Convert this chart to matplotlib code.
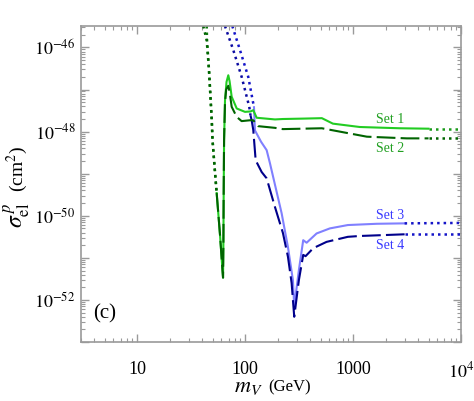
import matplotlib
matplotlib.use('Agg')
import matplotlib.pyplot as plt
import numpy as np
from matplotlib.ticker import FixedLocator, LogLocator, FuncFormatter, NullFormatter

plt.rcParams['font.family'] = 'serif'
plt.rcParams['font.serif'] = ['Liberation Serif', 'DejaVu Serif']
plt.rcParams['mathtext.fontset'] = 'stix'

# m_V in GeV, sigma given as log10(sigma / cm^2)
# left dotted branches
s1_dot_l_m = [43.9, 44.2, 46.1, 48.9, 49.7, 51.6, 54.3]
s1_dot_l_s = [-45.49, -45.83, -46.54, -47.73, -48.20, -48.75, -49.46]
s2_dot_l_m = [40.8, 43.9, 46.1, 48.9, 49.7, 51.6, 54.3]
s2_dot_l_s = [-45.49, -45.83, -46.54, -47.73, -48.20, -48.75, -49.46]
s3_dot_l_m = [75.8, 89.3, 106.6, 118.6, 120.4]
s3_dot_l_s = [-45.49, -46.06, -46.70, -47.33, -47.42]
s4_dot_l_m = [64.8, 77.4, 92.6, 108.9, 111.7]
s4_dot_l_s = [-45.49, -46.06, -46.70, -47.41, -47.61]

# main curves
s1_m = [54.3, 58.3, 61.5, 62.2, 62.7, 63.0, 63.6, 64.9, 67.0, 69.6, 71.5, 74.8,
        83.3, 99.4, 112, 118.6, 127.5, 188.4, 223, 350, 513, 649, 1153, 2705, 5000]
s1_s = [-49.46, -50.45, -51.30, -51.47, -50.60, -49.63, -48.20, -47.25, -46.82, -46.66,
        -46.80, -47.17, -47.45, -47.53, -47.52, -47.49, -47.67, -47.71, -47.70, -47.69,
        -47.68, -47.81, -47.89, -47.92, -47.93]
s2_m = [54.3, 58.3, 61.5, 62.2, 62.7, 63.0, 63.6, 64.9, 66.5, 69.6, 71.5, 74.8, 83.3,
        92.5, 110.5, 118.6, 131.8, 188.4, 223, 513, 754, 1340, 3141, 5000]
s2_s = [-49.46, -50.45, -51.30, -51.47, -50.60, -49.63, -48.20, -47.30, -47.00, -46.91,
        -47.05, -47.41, -47.65, -47.75, -47.73, -47.73, -47.87, -47.91, -47.94, -47.92,
        -48.00, -48.12, -48.16, -48.16]
s3_m = [120.4, 122.9, 140, 157.8, 169.3, 217.3, 248.5, 276.5, 284.3, 314, 344.4,
        370.4, 458.4, 608, 893, 1656, 3000]
s3_s = [-47.42, -47.97, -48.24, -48.44, -48.75, -49.94, -50.74, -51.53, -52.16, -51.29,
        -50.58, -50.64, -50.42, -50.30, -50.22, -50.19, -50.18]
s4_m = [111.7, 114.6, 118.6, 124.8, 141.9, 157.8, 188.4, 223.4, 248.5, 269, 284.3,
        314, 344.4, 362.2, 426.6, 567, 893, 1153, 3000]
s4_s = [-47.61, -47.73, -47.96, -48.68, -48.96, -49.11, -49.79, -50.41, -50.97, -51.60,
        -52.40, -51.53, -50.93, -50.96, -50.77, -50.62, -50.50, -50.48, -50.44]

# right dotted tails
s1_dot_r_m = [5000, 10000]
s1_dot_r_s = [-47.93, -47.93]
s2_dot_r_m = [5000, 10000]
s2_dot_r_s = [-48.16, -48.16]
s3_dot_r_m = [3000, 10000]
s3_dot_r_s = [-50.18, -50.17]
s4_dot_r_m = [3000, 10000]
s4_dot_r_s = [-50.44, -50.44]

set_labels = ['Set 1', 'Set 2', 'Set 3', 'Set 4']
label_m = [2190, 2190, 2190, 2190]
label_s = [-47.71, -48.40, -49.99, -50.71]


def sig(a):
    return 10.0 ** np.array(a)


fig = plt.figure(figsize=(4.74, 4.01), dpi=100)
ax = fig.add_axes([0.1709, 0.1471, 0.8017, 0.788])

c1, c2, c3, c4 = '#22cc22', '#006400', '#8080ff', '#00008b'
dot = (0, (1, 1.6))
dash = (0, (9, 2.5))

ax.plot(s1_dot_l_m, sig(s1_dot_l_s), color='#0f7a0f', lw=1.8, ls=dot)
ax.plot(s2_dot_l_m, sig(s2_dot_l_s), color='#006400', lw=1.8, ls=dot)
ax.plot(s3_dot_l_m, sig(s3_dot_l_s), color='#1414c8', lw=1.8, ls=dot)
ax.plot(s4_dot_l_m, sig(s4_dot_l_s), color='#0a0aa0', lw=1.8, ls=dot)

ax.plot(s3_m, sig(s3_s), color=c3, lw=1.5)
ax.plot(s4_m, sig(s4_s), color=c4, lw=1.5, ls=dash)
ax.plot(s1_m, sig(s1_s), color=c1, lw=1.5)
ax.plot(s2_m, sig(s2_s), color=c2, lw=1.5, ls=dash)

ax.plot(s1_dot_r_m, sig(s1_dot_r_s), color='#1a9a1a', lw=1.8, ls=dot)
ax.plot(s2_dot_r_m, sig(s2_dot_r_s), color='#006400', lw=1.8, ls=dot)
ax.plot(s3_dot_r_m, sig(s3_dot_r_s), color='#1414c8', lw=1.8, ls=dot)
ax.plot(s4_dot_r_m, sig(s4_dot_r_s), color='#1414c8', lw=1.8, ls=dot)

label_colors = ['#22a022', '#22a022', '#3a3aff', '#3a3aff']
for name, m, s, col in zip(set_labels, label_m, label_s, label_colors):
    ax.text(m, 10.0 ** s, name, color=col, fontsize=10, ha='center', va='center')

ax.text(0.063, 0.089, '(c)', transform=ax.transAxes, fontsize=15,
        ha='center', va='center')

ax.set_xscale('log')
ax.set_yscale('log')
ax.set_xlim(3, 1e4)
ax.set_ylim(1e-53, 10 ** -45.49)

ax.xaxis.set_major_locator(FixedLocator([10, 100, 1000, 10000]))
ax.xaxis.set_major_formatter(FuncFormatter(
    lambda v, p: {10: '10', 100: '100', 1000: '1000', 10000: r'$10^4$'}.get(int(round(v)), '')))
ax.xaxis.set_minor_locator(LogLocator(base=10, subs=np.arange(2, 10), numticks=20))
ax.xaxis.set_minor_formatter(NullFormatter())

ydec = np.arange(-53, -45)
ax.yaxis.set_major_locator(FixedLocator(10.0 ** ydec))
ax.yaxis.set_major_formatter(FuncFormatter(
    lambda v, p: r'$10^{%d}$' % round(np.log10(v)) if round(np.log10(v)) % 2 == 0 else ''))
ax.yaxis.set_minor_locator(LogLocator(base=10, subs=np.arange(2, 10), numticks=20))
ax.yaxis.set_minor_formatter(NullFormatter())

for sp in ax.spines.values():
    sp.set_color('#9a9a9a')
    sp.set_linewidth(1.2)
ax.tick_params(which='both', direction='in', top=True, right=True, color='#9a9a9a')
ax.tick_params(which='major', length=6, width=1.0, labelsize=13)
ax.tick_params(which='minor', length=3, width=0.8)
ax.tick_params(axis='x', which='major', pad=14)
ax.tick_params(axis='y', which='major', pad=4)

# axis titles: large symbol, smaller unit
ax.text(0.478, -0.115, r'$m_V$', transform=ax.transAxes, fontsize=16,
        ha='right', va='top')
ax.text(0.494, -0.118, '(GeV)', transform=ax.transAxes, fontsize=12,
        ha='left', va='top')
ax.text(-0.153, 0.40, r'$\sigma_{\rm el}^{\,p}$', transform=ax.transAxes, fontsize=17,
        rotation=90, ha='center', va='baseline', rotation_mode='anchor')
ax.text(-0.153, 0.476, r'(cm$^2$)', transform=ax.transAxes, fontsize=14,
        rotation=90, ha='left', va='baseline', rotation_mode='anchor')

fig.savefig('out.png', dpi=100)
